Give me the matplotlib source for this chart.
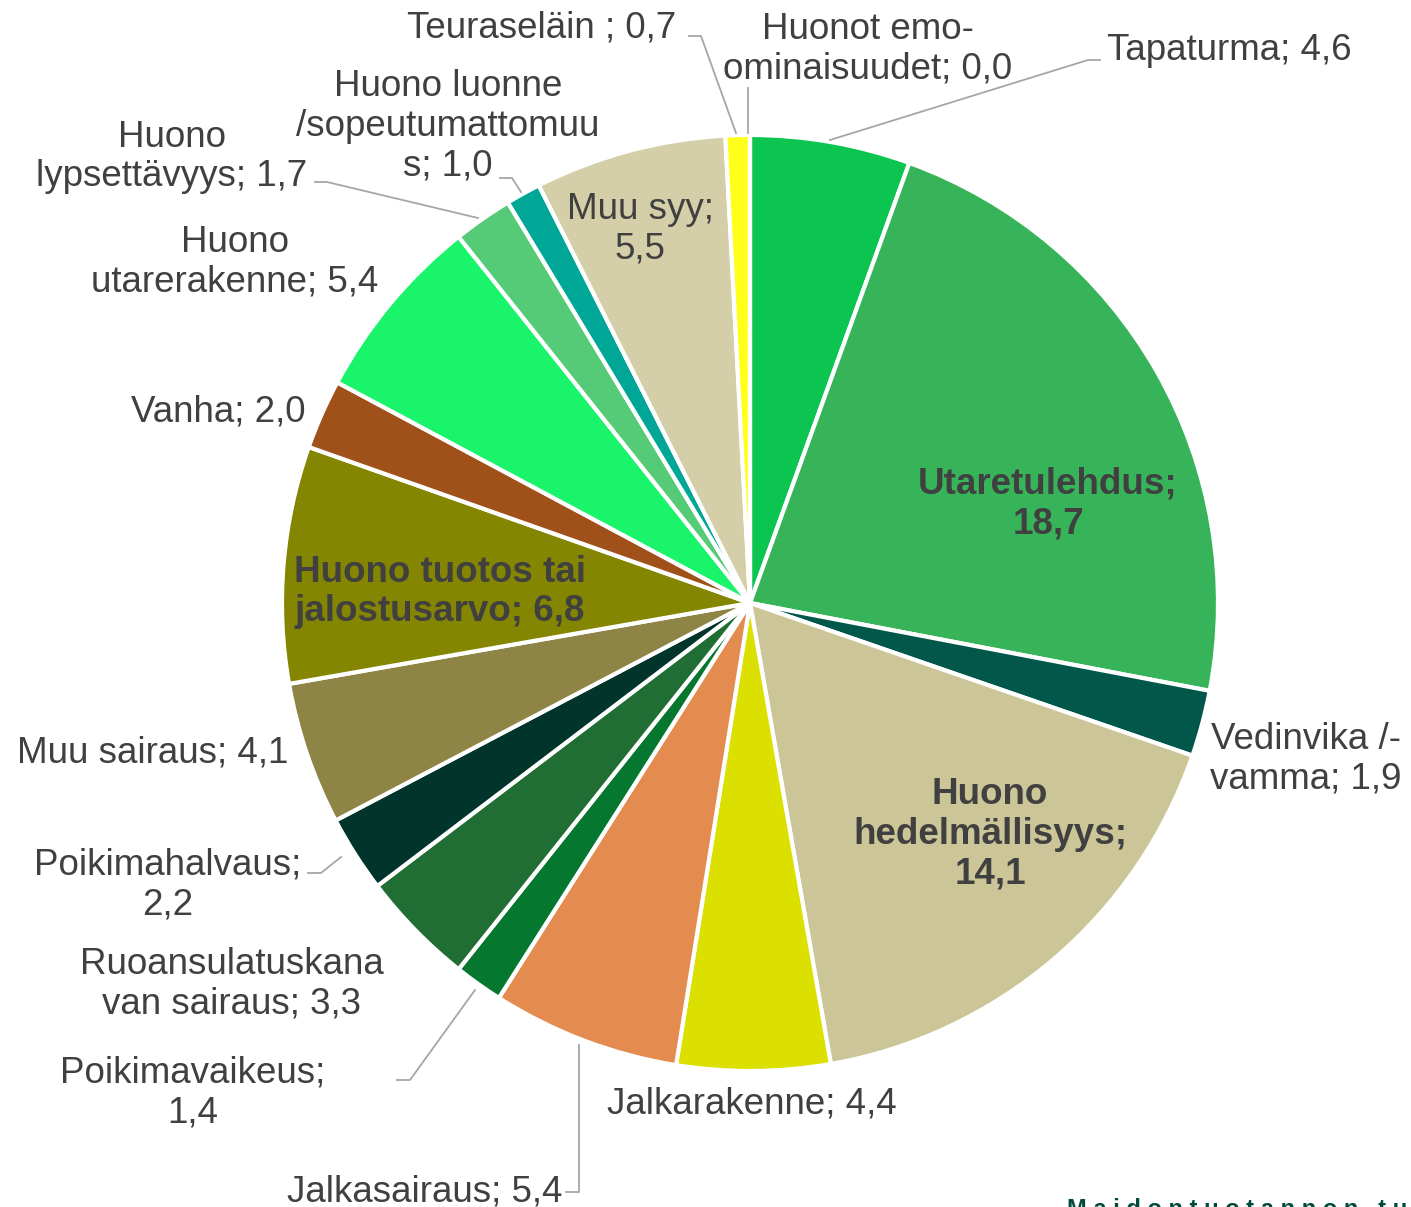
import matplotlib
matplotlib.use("Agg")
import matplotlib.pyplot as plt

plt.rcParams['font.family'] = ['Liberation Sans', 'DejaVu Sans']

# data (clockwise from the top)
labels = ["Tapaturma; 4,6", "Utaretulehdus;\n18,7", "Vedinvika /-\nvamma; 1,9",
          "Huono\nhedelmällisyys;\n14,1", "Jalkarakenne; 4,4", "Jalkasairaus; 5,4",
          "Poikimavaikeus;\n1,4", "Ruoansulatuskana\nvan sairaus; 3,3",
          "Poikimahalvaus;\n2,2", "Muu sairaus; 4,1",
          "Huono tuotos tai\njalostusarvo; 6,8", "Vanha; 2,0",
          "Huono\nutarerakenne; 5,4", "Huono\nlypsettävyys; 1,7",
          "Huono luonne\n/sopeutumattomuu\ns; 1,0", "Muu syy;\n5,5",
          "Teuraseläin ; 0,7", "Huonot emo-\nominaisuudet; 0,0"]
values = [4.6, 18.7, 1.9, 14.1, 4.4, 5.4, 1.4, 3.3, 2.2, 4.1, 6.8, 2.0, 5.4, 1.7, 1.0, 5.5, 0.7, 0.0]
colors = ["#0cc550", "#37b45a", "#00574a", "#cbc597", "#dbe000", "#e48c50",
          "#06772f", "#216e35", "#01352b", "#8d8446", "#848500", "#a0511a",
          "#19f46b", "#55cb78", "#00a797", "#d4cea9", "#ffff1a", "#ffffff"]
bold = [False, True, False, True, False, False, False, False, False, False,
        True, False, False, False, False, False, False, False]

# layout in pixels (x, y from top), text centre
W, H = 1411, 1207
label_pos = [(1229, 51), (1048, 504), (1306, 759), (990, 834), (752, 1104),
             (425, 1192), (193, 1093), (232, 984), (168, 885), (153, 753),
             (440, 592), (218, 412), (235, 262), (172, 157), (448, 126),
             (640, 229), (542, 28), (868, 49)]
leaders = {0: [(1100, 60), (1088, 60), (830, 140)],
           14: [(500, 178), (512, 178), (521, 192)],
           13: [(315, 182), (327, 182), (478, 218)],
           16: [(689, 36), (701, 36), (736, 133)],
           17: [(748, 88), (748, 133)],
           8: [(308, 873), (321, 873), (341, 857)],
           6: [(397, 1080), (410, 1080), (475, 990)],
           5: [(566, 1192), (579, 1192), (579, 1045)]}

fig = plt.figure(figsize=(W / 100, H / 100), dpi=100)
ax = fig.add_axes([0, 0, 1, 1])

ax.pie(values, colors=colors, startangle=90, counterclock=False,
       center=(750, H - 603), radius=468,
       wedgeprops=dict(edgecolor="white", linewidth=3))

for i, pts in leaders.items():
    xs = [p[0] for p in pts]
    ys = [H - p[1] for p in pts]
    ax.plot(xs, ys, color="#a6a6a6", linewidth=1.3, zorder=3)

for i, lab in enumerate(labels):
    x, y = label_pos[i]
    ax.text(x, H - y, lab, ha="center", va="center", fontsize=26.5,
            color="#404040", fontweight="bold" if bold[i] else "normal",
            linespacing=1.17, zorder=4)

# footer, clipped at the bottom edge like in the source
ax.text(1067, H - 1198, "M a i d o n t u o t a n n o n   t u o t a n t o",
        ha="left", va="top", fontsize=17, fontweight="bold", color="#004b3c")

ax.set_xlim(0, W)
ax.set_ylim(0, H)
ax.set_aspect("auto")
ax.axis("off")

plt.savefig("out.png", dpi=100)
